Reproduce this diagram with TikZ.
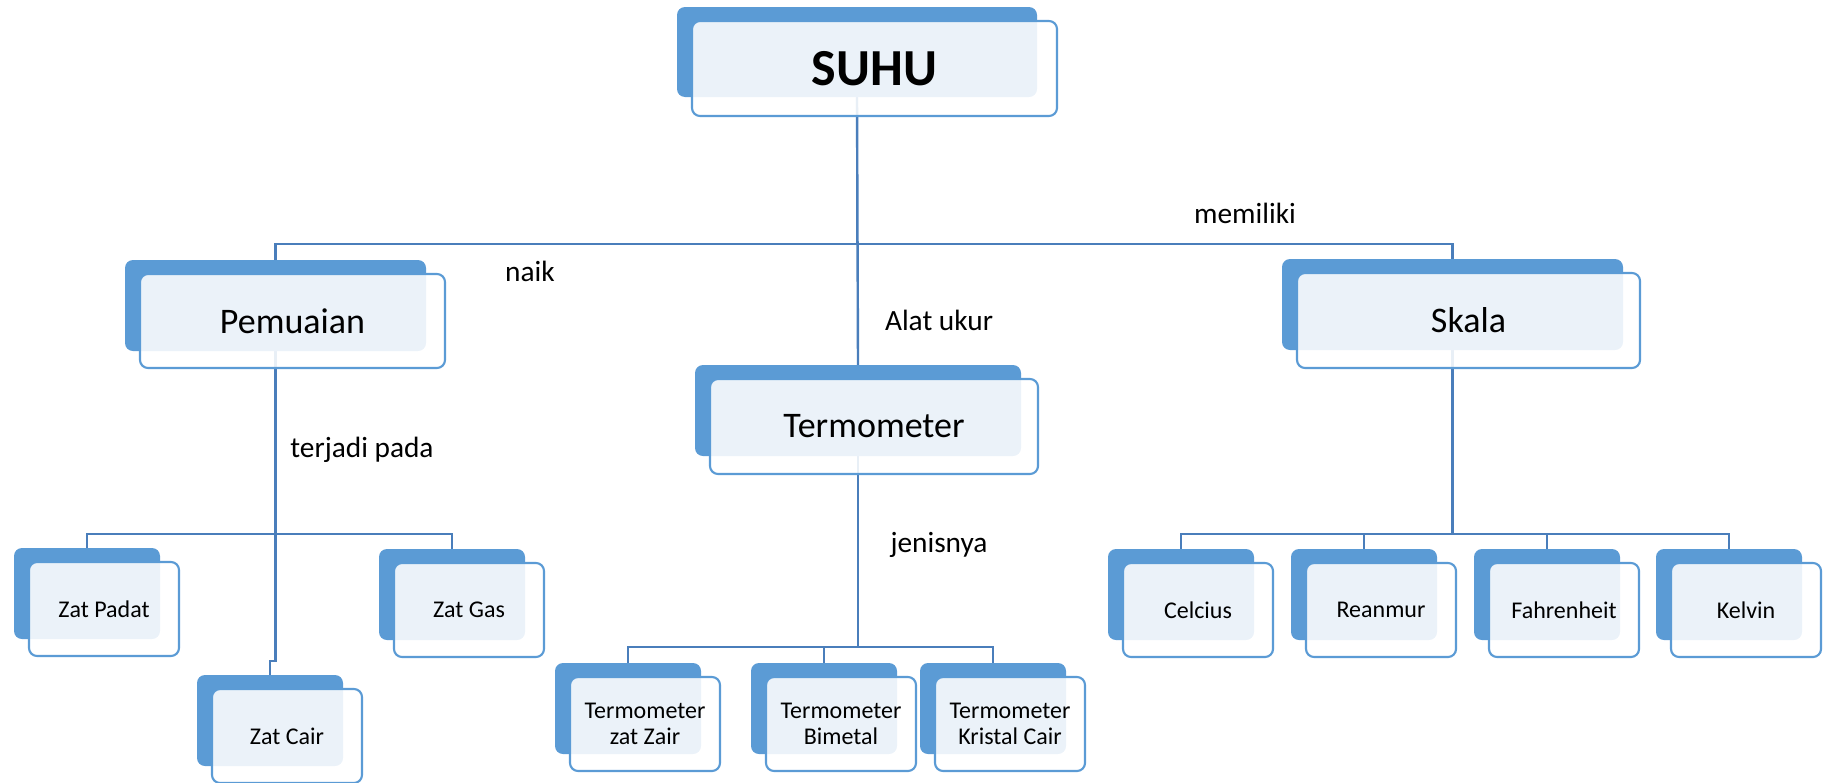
\documentclass[tikz,border=0pt]{standalone}
\usepackage{fontspec}
\setmainfont{Carlito}
\usetikzlibrary{backgrounds}
\definecolor{boxblue}{HTML}{5B9BD5}
\definecolor{lineblue}{HTML}{4A7EBB}
\newcommand{\fMain}{\fontsize{27}{32}\selectfont}
\newcommand{\fSmall}{\fontsize{18}{19.5}\selectfont}
\newcommand{\conceptbox}[9]{%
  \node[backbox, minimum width={#4*0.75pt}, minimum height={#5*0.75pt}] (#1B) at (#2,#3) {};
  \node[frontbox, minimum width={#6*0.75pt}, minimum height={#7*0.75pt}, font={#9}] (#1) at (#2+15,#3+14) {#8};
}
\begin{document}
\begin{tikzpicture}[x=0.75pt,y=-0.75pt,
  backbox/.style={anchor=north west, fill=boxblue, rounded corners=6pt, inner sep=0pt, outer sep=0pt},
  frontbox/.style={anchor=north west, fill=white, fill opacity=0.88, text opacity=1, draw=boxblue, line width=1.6pt, rounded corners=6pt, inner sep=0pt, outer sep=0pt, align=center},
  conn/.style={draw=lineblue, line width=1.8pt},
  lbl/.style={font=\fontsize{22}{26}\selectfont, inner sep=0pt}]
\useasboundingbox (0,0) rectangle (1827,782);
% concept boxes
\conceptbox{suhu}{677}{7}{360}{90}{365}{95}{SUHU}{\bfseries\fontsize{39}{44}\selectfont}
\conceptbox{pem}{125}{260}{301}{91}{305}{94}{Pemuaian}{\fMain}
\conceptbox{term}{695}{365}{326}{91}{328}{95}{Termometer}{\fMain}
\conceptbox{skala}{1282}{259}{341}{91}{343}{95}{Skala}{\fMain}
\conceptbox{padat}{14}{548}{146}{91}{150}{94}{Zat Padat}{\fSmall}
\conceptbox{gas}{379}{549}{146}{91}{150}{94}{Zat Gas}{\fSmall}
\conceptbox{cair}{197}{675}{146}{91}{150}{94}{Zat Cair}{\fSmall}
\conceptbox{tzz}{555}{663}{146}{91}{150}{94}{Termometer\\zat Zair}{\fSmall}
\conceptbox{bim}{751}{663}{146}{91}{150}{94}{Termometer\\Bimetal}{\fSmall}
\conceptbox{kris}{920}{663}{146}{91}{150}{94}{Termometer\\Kristal Cair}{\fSmall}
\conceptbox{cel}{1108}{549}{146}{91}{150}{94}{Celcius}{\fSmall}
\conceptbox{rea}{1291}{549}{146}{91}{150}{94}{Reanmur}{\fSmall}
\conceptbox{fah}{1474}{549}{146}{91}{150}{94}{Fahrenheit}{\fSmall}
\conceptbox{kel}{1656}{549}{146}{91}{150}{94}{Kelvin}{\fSmall}
% bar levels
\coordinate (barA) at (0,244);
\coordinate (barB) at (0,534);
\coordinate (barC) at (0,647);
\coordinate (jogC) at (0,661);
\begin{scope}[on background layer]
\draw[conn] (suhuB.south) -- (suhuB.south |- barA) -| (pemB.north);
\draw[conn] (suhuB.south |- barA) -| (skalaB.north);
\draw[conn] (suhuB.south) -- (termB.north);
\draw[conn] (pemB.south) -- (pemB.south |- barB) -| (padatB.north);
\draw[conn] (pemB.south |- barB) -| (gasB.north);
\draw[conn] (pemB.south) -- (pemB.south |- jogC) -| (cairB.north);
\draw[conn] (termB.south) -- (termB.south |- barC) -| (tzzB.north);
\draw[conn] (termB.south |- barC) -| (bimB.north);
\draw[conn] (termB.south |- barC) -| (krisB.north);
\draw[conn] (skalaB.south) -- (skalaB.south |- barB) -| (celB.north);
\draw[conn] (skalaB.south |- barB) -| (reaB.north);
\draw[conn] (skalaB.south |- barB) -| (fahB.north);
\draw[conn] (skalaB.south |- barB) -| (kelB.north);
\end{scope}
% labels
\node[lbl] (lmem) at (1245,213) {memiliki};
\node[lbl] (lnaik) at (530,271) {naik};
\node[lbl] (lalat) at (939,320) {Alat ukur};
\node[lbl] (lterj) at (362,450) {terjadi pada};
\node[lbl] (ljen) at (939,545) {jenisnya};
\end{tikzpicture}
\end{document}
